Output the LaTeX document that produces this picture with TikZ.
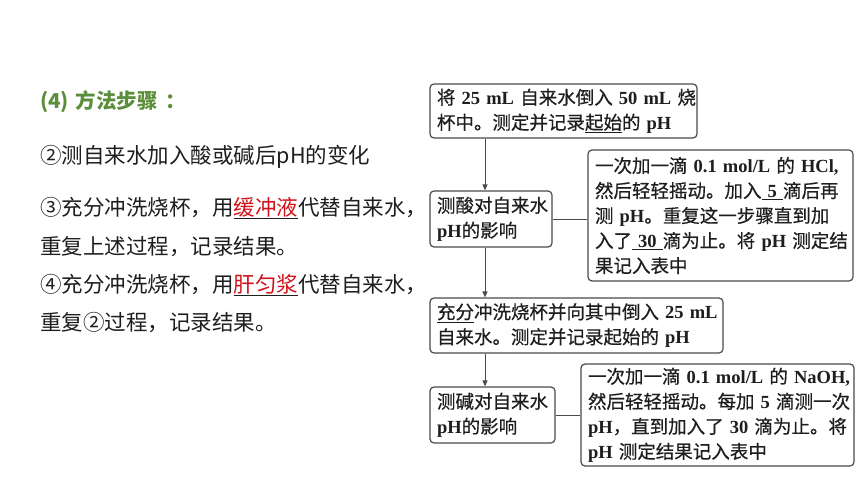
\documentclass[tikz,border=0pt]{standalone}
\usepackage{fontspec}
\setmainfont{Noto Sans CJK SC}
\newfontfamily\boxf{Noto Sans CJK SC}[FakeBold=0.5]
\newfontfamily\latf{Liberation Serif}
\newcommand\lt[1]{{\latf\bfseries #1}}
\usetikzlibrary{arrows.meta}
\definecolor{tgreen}{HTML}{5B8E3A}
\definecolor{tred}{HTML}{D0121B}
\definecolor{tdark}{HTML}{1E1E1E}
\definecolor{bline}{HTML}{4A4A4A}
\begin{document}
\begin{tikzpicture}[x=1pt,y=1pt,
  box/.style={draw=bline, line width=1.2pt, rounded corners=4pt, align=left,
    inner xsep=7pt, inner ysep=0pt, font=\boxf\fontsize{18.5}{25}\selectfont, text=tdark},
  conn/.style={draw=bline, line width=1pt},
  arr/.style={conn, -{Triangle[length=6pt,width=5pt]}},
  ltext/.style={anchor=west, inner sep=0pt, font=\fontsize{21.5}{21.5}\selectfont, text=tdark}]
\fill[white] (0,0) rectangle (860,-484);
\useasboundingbox (0,0) rectangle (860,-484);

% left column
\node[ltext, font=\fontsize{20.5}{20.5}\selectfont\bfseries, text=tgreen] (t0) at (40,-102) {(4)\hspace{2pt} 方法步骤\hspace{8pt}：};
\node[ltext] (t1) at (40,-157) {②测自来水加入酸或碱后pH的变化};
\node[ltext] (t2) at (40,-208) {③充分冲洗烧杯，用\underline{\textcolor{tred}{缓冲液}}代替自来水，};
\node[ltext] (t3) at (40,-247) {重复上述过程，记录结果。};
\node[ltext] (t4) at (40,-285) {④充分冲洗烧杯，用\underline{\textcolor{tred}{肝匀浆}}代替自来水，};
\node[ltext] (t5) at (40,-323) {重复②过程，记录结果。};

% flow chart boxes
\node[box, minimum width=267pt, minimum height=54pt, text width=253pt] (b1) at (563.5,-111)
  {\mbox{将 \lt{25 mL} 自来水倒入 \lt{50 mL} 烧}\\\mbox{杯中。测定并记录\underline{起始}的 \lt{pH}}};
\node[box, minimum width=122pt, minimum height=56pt, text width=108pt] (b2) at (491,-219)
  {\mbox{测酸对自来水}\\\mbox{\lt{pH}的影响}};
\node[box, minimum width=265pt, minimum height=131pt, text width=251pt] (b3) at (720.5,-215.5)
  {\mbox{一次加一滴 \lt{0.1 mol/L} 的 \lt{HCl,}}\\\mbox{然后轻轻摇动。加入\underline{\hbox{ \lt{5} }}滴后再}\\\mbox{测 \lt{pH}。重复这一步骤直到加}\\\mbox{入了\underline{\hbox{ \lt{30} }}滴为止。将 \lt{pH} 测定结}\\\mbox{果记入表中}};
\node[box, minimum width=293pt, minimum height=55pt, text width=279pt] (b4) at (576.5,-325.5)
  {\mbox{\underline{充分}冲洗烧杯并向其中倒入 \lt{25 mL}}\\\mbox{自来水。测定并记录起始的 \lt{pH}}};
\node[box, minimum width=125pt, minimum height=56pt, text width=111pt] (b5) at (492.5,-415)
  {\mbox{测碱对自来水}\\\mbox{\lt{pH}的影响}};
\node[box, minimum width=273pt, minimum height=102pt, text width=259pt] (b6) at (717.5,-415)
  {\mbox{一次加一滴 \lt{0.1 mol/L} 的 \lt{NaOH,}}\\\mbox{然后轻轻摇动。每加 \lt{5} 滴测一次}\\\mbox{\lt{pH}，直到加入了 \lt{30} 滴为止。将}\\\mbox{\lt{pH} 测定结果记入表中}};

% connectors
\coordinate (vx) at (485,0);
\draw[arr] (b1.south -| vx) -- (b2.north -| vx);
\draw[arr] (b2.south -| vx) -- (b4.north -| vx);
\draw[arr] (b4.south -| vx) -- (b5.north -| vx);
\draw[conn] (b2.east) -- (b2.east -| b3.west);
\draw[conn] (b5.east) -- (b6.west);
\end{tikzpicture}
\end{document}
